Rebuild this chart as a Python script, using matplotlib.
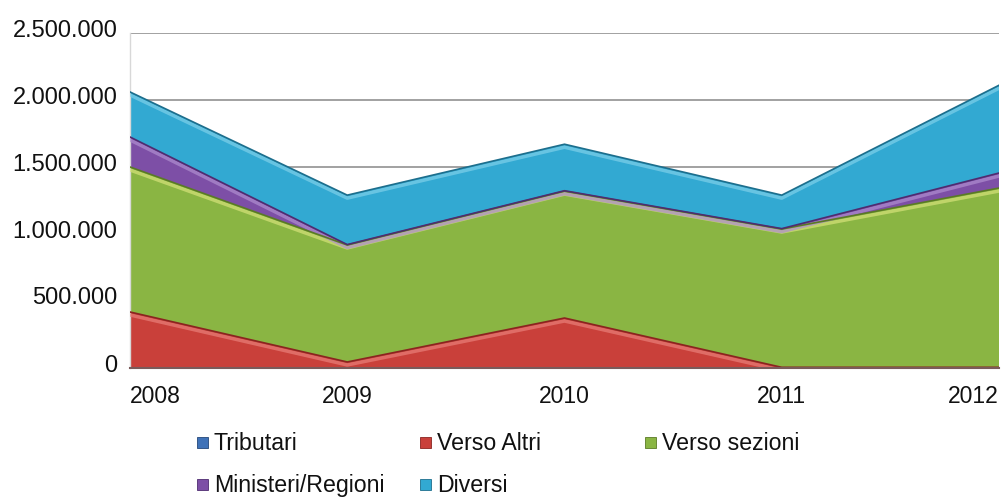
import numpy as np
import matplotlib
matplotlib.use("Agg")
import matplotlib.pyplot as plt
import matplotlib.transforms as mtransforms
import matplotlib.patches as mpatches
from matplotlib.ticker import FuncFormatter

plt.rcParams["font.family"] = ["Liberation Sans", "DejaVu Sans"]

# ── data ────────────────────────────────────────────────────────────────────
anni = ["2008", "2009", "2010", "2011", "2012"]
tributari = [0, 0, 0, 0, 0]
verso_altri = [418000, 45000, 373000, 5000, 5000]
verso_sezioni = [1082000, 873000, 947000, 1032000, 1338000]
ministeri_regioni = [224000, 3000, 3000, 3000, 112000]
diversi = [336000, 369000, 347000, 250000, 655000]

serie = ["Tributari", "Verso Altri", "Verso sezioni", "Ministeri/Regioni", "Diversi"]
colori = ["#3F72B8", "#C9403A", "#8AB543", "#7D4FA6", "#32A9D2"]
bordi = ["#23477A", "#8A2420", "#5A7A25", "#4E2C70", "#1D6E8C"]
luci = ["#7FA6DC", "#E9807A", "#D6E27A", "#B08ED0", "#7FD0EA"]

# ── figure ──────────────────────────────────────────────────────────────────
fig = plt.figure(figsize=(10.02, 4.98), dpi=100, facecolor="white")
ax = fig.add_axes([130 / 1002, 1 - 368 / 498, 869 / 1002, 335 / 498])

x = np.arange(len(anni))
valori = [tributari, verso_altri, verso_sezioni, ministeri_regioni, diversi]

ax.stackplot(x, *valori, colors=colori, zorder=2, lw=0)

# bevel-ish edges: light highlight just under each top, dark line on it
cum = np.cumsum(np.array(valori, dtype=float), axis=0)
giu = mtransforms.offset_copy(ax.transData, fig=fig, x=0, y=-3, units="dots")
for i in range(1, len(serie)):
    ax.plot(x, cum[i], color=luci[i], lw=2.5, alpha=0.7, zorder=3,
            transform=giu, solid_joinstyle="round")
    ax.plot(x, cum[i], color=bordi[i], lw=1.2, zorder=4, solid_joinstyle="round")

ax.set_xlim(0, 4)
ax.set_ylim(0, 2500000)
ax.set_yticks(np.arange(0, 2500001, 500000))
ax.yaxis.set_major_formatter(FuncFormatter(lambda v, p: f"{int(v):,}".replace(",", ".")))
ax.set_xticks(x)
ax.set_xticklabels(anni)

ax.grid(axis="y", color="#9A9A9A", lw=1.3, zorder=0)
ax.set_axisbelow(True)
for s in ["top", "right"]:
    ax.spines[s].set_visible(False)
ax.spines["left"].set_color("#D8D8D8")
ax.spines["left"].set_linewidth(1.0)
ax.spines["bottom"].set_color("#7A5A5A")
ax.spines["bottom"].set_linewidth(1.5)
ax.spines["bottom"].set_zorder(5)

ax.tick_params(axis="both", length=0, colors="#111111")
ax.tick_params(axis="y", pad=9, labelsize=17)
ax.tick_params(axis="x", pad=12, labelsize=16.5)

su = mtransforms.ScaledTranslation(0, 5 / 100, fig.dpi_scale_trans)
for lab in ax.get_yticklabels():
    lab.set_transform(lab.get_transform() + su)
xl = ax.get_xticklabels()
xl[0].set_ha("left")
xl[-1].set_ha("right")

# ── legend, laid out on a fixed grid like the original ─────────────────────
posizioni = [(197, 443), (420, 443), (645, 443), (197, 485), (420, 485)]
for (px, py), nome, col, bd in zip(posizioni, serie, colori, bordi):
    fig.patches.append(mpatches.Rectangle(
        (px / 1002, 1 - (py + 5) / 498), 11 / 1002, 11 / 498,
        transform=fig.transFigure, facecolor=col, edgecolor=bd, lw=0.6))
    fig.text((px + 17) / 1002, 1 - py / 498, nome, fontsize=16.7,
             color="#111111", ha="left", va="center")

fig.savefig("out.png", dpi=100, facecolor="white")
